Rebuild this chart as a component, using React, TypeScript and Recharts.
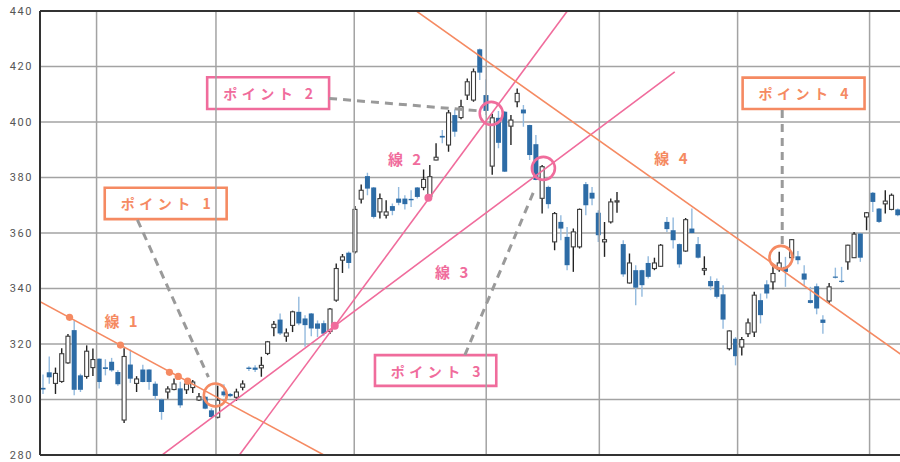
import {
  Bar,
  CartesianGrid,
  ComposedChart,
  ReferenceArea,
  ReferenceDot,
  ReferenceLine,
  XAxis,
  YAxis,
} from "recharts";

// daily candles (index = trading day)
const OPEN = [
  304.2, 309.8, 305.8, 306.5, 313.2, 325.0, 308.7, 308.3, 311.5, 314.7,
  311.6, 313.6, 309.9, 292.6, 312.6, 305.8, 310.8, 310.8, 305.7, 300.0,
  302.7, 303.6, 304.0, 303.5, 304.3, 299.8, 301.0, 296.1, 293.6, 302.9,
  302.0, 300.8, 304.4, 311.5, 311.5, 311.4, 316.6, 325.9, 328.8, 322.8,
  326.7, 331.6, 329.2, 331.0, 327.4, 327.5, 324.5, 335.8, 350.2, 352.9,
  353.2, 372.2, 380.5, 376.4, 367.6, 366.4, 369.7, 372.4, 372.4, 372.3,
  376.4, 376.4, 373.2, 386.3, 395.0, 391.7, 402.5, 401.6, 409.7, 407.9,
  426.2, 409.7, 384.1, 401.5, 403.7, 398.5, 407.3, 404.5, 398.9, 392.0,
  372.5, 376.6, 356.8, 364.0, 358.6, 355.0, 355.0, 377.6, 374.5, 367.3,
  356.8, 364.0, 371.2, 356.0, 342.0, 346.6, 346.6, 349.2, 347.2, 348.0,
  364.0, 361.0, 356.0, 353.5, 361.6, 356.0, 346.6, 342.7, 342.7, 337.9,
  318.3, 321.9, 318.9, 323.7, 324.3, 335.8, 341.5, 342.4, 346.8, 347.8,
  351.1, 351.6, 345.4, 335.8, 340.8, 328.8, 335.5, 344.3, 342.8, 349.6,
  351.1, 359.8, 365.8, 374.5, 368.8, 370.5, 368.5, 368.5,
];
const HIGH = [
  309.0, 315.5, 311.5, 318.5, 323.6, 328.5, 309.3, 319.5, 318.4, 314.8,
  314.5, 315.0, 310.5, 318.5, 318.0, 308.4, 312.5, 310.9, 306.5, 300.3,
  304.8, 307.6, 306.4, 307.0, 307.0, 302.3, 301.2, 296.8, 305.0, 305.5,
  302.3, 303.9, 306.9, 312.0, 312.3, 315.4, 321.1, 328.3, 331.0, 325.6,
  332.0, 337.0, 330.4, 331.2, 328.5, 328.5, 333.0, 349.0, 352.4, 353.3,
  369.7, 377.5, 381.7, 376.6, 374.2, 371.8, 370.6, 376.6, 373.6, 375.4,
  376.6, 382.9, 384.5, 392.3, 397.1, 404.3, 404.5, 408.0, 415.7, 419.3,
  426.5, 415.4, 403.0, 404.0, 404.0, 402.5, 412.1, 406.1, 399.0, 395.3,
  384.5, 377.0, 367.6, 366.4, 362.2, 361.6, 368.8, 378.4, 376.6, 368.2,
  364.0, 372.4, 374.8, 357.4, 352.6, 348.4, 346.8, 351.6, 351.1, 356.0,
  365.8, 365.6, 356.2, 365.4, 368.8, 358.6, 351.6, 344.4, 343.6, 341.2,
  324.9, 322.5, 322.5, 329.2, 338.8, 338.2, 343.0, 348.4, 353.2, 351.4,
  357.8, 353.5, 348.4, 340.6, 341.8, 330.4, 342.0, 347.5, 347.8, 355.8,
  360.4, 360.0, 367.6, 374.8, 369.0, 375.4, 374.2, 368.8,
];
const LOW = [
  302.0, 305.7, 302.0, 306.0, 312.9, 301.5, 302.7, 307.5, 308.5, 304.0,
  308.7, 310.0, 305.0, 291.5, 306.0, 302.7, 306.2, 303.5, 299.8, 292.7,
  300.3, 303.3, 297.0, 302.0, 302.3, 299.5, 296.5, 293.1, 293.2, 301.0,
  300.8, 299.5, 303.3, 310.3, 309.9, 308.2, 316.0, 322.8, 323.2, 320.8,
  324.3, 326.8, 319.0, 322.8, 322.5, 323.0, 323.6, 335.2, 345.6, 347.2,
  352.6, 370.6, 373.6, 365.2, 365.2, 365.2, 366.4, 370.0, 368.5, 369.4,
  372.4, 375.4, 373.0, 386.2, 392.3, 389.3, 394.7, 401.0, 407.9, 407.3,
  415.1, 402.5, 381.0, 390.5, 382.0, 391.7, 405.3, 398.3, 386.3, 379.0,
  367.0, 368.8, 353.8, 357.4, 346.6, 346.0, 354.4, 366.4, 370.0, 356.8,
  351.4, 363.4, 367.3, 344.2, 341.8, 334.0, 337.0, 343.6, 346.6, 347.8,
  360.4, 354.4, 347.5, 353.2, 359.8, 350.8, 344.8, 339.4, 336.4, 325.5,
  317.7, 312.3, 315.9, 322.5, 322.5, 327.4, 336.4, 339.6, 346.0, 340.6,
  350.2, 348.7, 341.2, 334.6, 330.7, 323.7, 334.6, 343.6, 342.0, 346.8,
  351.0, 349.6, 361.0, 367.6, 363.6, 367.0, 368.2, 366.0,
];
const CLOSE = [
  303.6, 308.0, 309.4, 316.5, 322.8, 303.5, 303.5, 317.4, 314.4, 306.3,
  311.0, 310.5, 305.5, 315.5, 307.5, 307.4, 306.3, 306.3, 301.3, 295.5,
  303.8, 305.6, 297.9, 305.6, 306.3, 301.0, 296.7, 293.7, 299.7, 301.5,
  301.2, 302.7, 305.6, 311.0, 310.7, 312.3, 320.8, 327.1, 323.8, 324.0,
  331.6, 327.4, 326.8, 325.6, 325.5, 323.7, 332.6, 347.2, 351.4, 349.2,
  368.5, 375.4, 376.0, 365.8, 372.4, 367.6, 368.0, 370.9, 370.4, 371.8,
  373.0, 379.3, 380.3, 387.3, 394.4, 403.3, 396.5, 405.5, 414.5, 418.1,
  417.8, 404.0, 401.5, 392.5, 382.1, 400.7, 410.3, 403.1, 388.1, 379.1,
  383.9, 370.4, 367.0, 361.6, 348.4, 360.4, 368.5, 370.0, 372.4, 359.2,
  357.6, 371.2, 371.6, 345.1, 349.2, 340.3, 341.2, 344.2, 349.2, 355.6,
  361.4, 357.4, 348.7, 364.8, 360.0, 351.1, 347.2, 340.8, 337.0, 328.8,
  324.7, 315.6, 321.6, 327.6, 337.6, 330.4, 338.2, 345.4, 349.2, 346.0,
  357.6, 350.2, 343.2, 334.8, 332.8, 327.6, 340.6, 343.9, 342.4, 355.6,
  359.6, 351.1, 367.3, 371.2, 364.0, 371.5, 373.6, 366.4,
];

const MONTH_STARTS = [9, 28, 50, 71, 89, 111, 132];
const Y_TICKS = [280, 300, 320, 340, 360, 380, 400, 420, 440];

const ORANGE = "#f58a62";
const PINK = "#f06c9c";
const GRID = "#a3a3a3";
const FRAME = "#333";

// trend lines: [x1, y1, x2, y2] in (day index, price)
const LINE_1 = [-0.5, 335.9, 50, 274.1];
const LINE_2 = [30, 274.7, 86, 446.4];
const LINE_3 = [17, 275.9, 101, 418.1];
const LINE_4 = [58, 443.0, 140, 311.4];

const LINE_LABELS = [
  { text: "線 1", x: 12.9, y: 328.5, color: ORANGE },
  { text: "線 2", x: 58.0, y: 387.0, color: PINK },
  { text: "線 3", x: 65.5, y: 346.1, color: PINK },
  { text: "線 4", x: 100.4, y: 387.3, color: ORANGE },
];

// touch points on line 1 and the anchors of lines 2/3
const LINE1_DOTS = [
  [4.7, 329.6],
  [12.8, 319.6],
  [20.6, 309.8],
  [22.0, 308.3],
  [23.5, 306.6],
];
const PINK_DOTS = [
  [46.9, 326.6],
  [61.8, 372.7],
];

const CIRCLES = [
  { x: 27.9, y: 301.6, color: ORANGE },
  { x: 71.8, y: 403.1, color: PINK },
  { x: 80.1, y: 383.3, color: PINK },
  { x: 117.9, y: 351.2, color: ORANGE },
];

// callout boxes: [x1, x2, y1, y2]
const BOXES = [
  { text: "ポイント 1", range: [10.3, 29.7, 365.0, 376.3], color: ORANGE },
  { text: "ポイント 2", range: [26.6, 46.0, 404.7, 416.1], color: PINK },
  { text: "ポイント 3", range: [53.3, 72.6, 304.9, 316.0], color: PINK },
  { text: "ポイント 4", range: [111.8, 131.2, 404.7, 416.0], color: ORANGE },
];

// dashed connectors from box to circle: [x1, y1, x2, y2]
const CONNECTORS = [
  [15.5, 364.7, 26.8, 308.1],
  [46.0, 408.5, 70.0, 404.0],
  [67.6, 316.0, 78.8, 376.2],
  [118.1, 404.3, 118.1, 355.7],
];

const N = OPEN.length;
const candles = OPEN.map((o, i) => ({ i, o, h: HIGH[i], l: LOW[i], c: CLOSE[i] }));

const JP_FONT = "'Noto Sans CJK JP', 'Noto Sans', sans-serif";

function Candle(props: any) {
  const { x, y, width, height, payload } = props;
  if (x == null || y == null || !payload) return null;
  const { o, h, l, c } = payload;
  const mid = x + width / 2;
  const span = h - l || 1;
  const toY = (v: number) => y + ((h - v) / span) * height;
  const top = toY(Math.max(o, c));
  const bottom = Math.max(toY(Math.min(o, c)), top + 1.2);
  if (c >= o) {
    return (
      <g>
        <line x1={mid} x2={mid} y1={y} y2={y + height} stroke="#222" strokeWidth={1.4} />
        <rect x={mid - 2} y={top} width={4} height={bottom - top} fill="#fff" stroke="#3d3d3d" strokeWidth={1.1} />
      </g>
    );
  }
  return (
    <g>
      <line x1={mid} x2={mid} y1={y} y2={y + height} stroke="#93bade" strokeWidth={1.4} />
      <rect x={mid - 2.5} y={top} width={5} height={bottom - top} fill="#2d6ca6" />
    </g>
  );
}

function textShape(text: string, color: string, size: number, spacing: number) {
  return (p: any) => (
    <text
      x={p.cx + spacing / 2}
      y={p.cy}
      textAnchor="middle"
      dominantBaseline="central"
      fill={color}
      fontSize={size}
      fontWeight={700}
      fontFamily={JP_FONT}
      letterSpacing={spacing}
    >
      {text}
    </text>
  );
}

export default function App() {
  return (
    <div style={{ position: "absolute", left: 0, top: 0, width: 900, height: 462, overflow: "hidden", background: "#fff" }}>
      <ComposedChart
        width={901}
        height={462}
        data={candles}
        margin={{ top: 11, right: 0, bottom: 7, left: 0 }}
        barCategoryGap={0}
      >
        <XAxis xAxisId="cat" dataKey="i" type="category" hide />
        <XAxis xAxisId="num" type="number" domain={[-0.5, N - 0.5]} allowDataOverflow hide />
        <YAxis
          domain={[280, 440]}
          ticks={Y_TICKS}
          interval={0}
          allowDataOverflow
          width={40}
          tickLine={false}
          tickSize={5}
          axisLine={{ stroke: FRAME, strokeWidth: 2 }}
          tick={{ fill: "#555", fontSize: 11, fontFamily: "Roboto", letterSpacing: 1.6 }}
        />
        <CartesianGrid xAxisId="num" vertical={false} stroke={GRID} strokeWidth={1.5} />
        {MONTH_STARTS.map((m) => (
          <ReferenceLine key={`m${m}`} xAxisId="num" x={m} stroke={GRID} strokeWidth={1.5} />
        ))}

        <Bar xAxisId="cat" dataKey={(d: any) => [d.l, d.h]} shape={Candle} isAnimationActive={false} />

        {[
          [LINE_1, ORANGE],
          [LINE_2, PINK],
          [LINE_3, PINK],
          [LINE_4, ORANGE],
        ].map(([seg, color], k) => {
          const s = seg as number[];
          return (
            <ReferenceLine
              key={`l${k}`}
              xAxisId="num"
              segment={[
                { x: s[0], y: s[1] },
                { x: s[2], y: s[3] },
              ]}
              stroke={color as string}
              strokeWidth={1.6}
              ifOverflow="hidden"
            />
          );
        })}

        {CONNECTORS.map((s, k) => (
          <ReferenceLine
            key={`c${k}`}
            xAxisId="num"
            segment={[
              { x: s[0], y: s[1] },
              { x: s[2], y: s[3] },
            ]}
            stroke="#9a9a9a"
            strokeWidth={3}
            strokeDasharray="8 6"
            ifOverflow="hidden"
          />
        ))}

        {CIRCLES.map((c, k) => (
          <ReferenceDot
            key={`o${k}`}
            xAxisId="num"
            x={c.x}
            y={c.y}
            r={11.5}
            fill="none"
            stroke={c.color}
            strokeWidth={2.6}
          />
        ))}
        {LINE1_DOTS.map(([x, y], k) => (
          <ReferenceDot key={`d${k}`} xAxisId="num" x={x} y={y} r={3.6} fill={ORANGE} stroke="none" />
        ))}
        {PINK_DOTS.map(([x, y], k) => (
          <ReferenceDot key={`p${k}`} xAxisId="num" x={x} y={y} r={4} fill={PINK} stroke="none" />
        ))}

        {BOXES.map((b) => (
          <ReferenceArea
            key={b.text}
            xAxisId="num"
            x1={b.range[0]}
            x2={b.range[1]}
            y1={b.range[2]}
            y2={b.range[3]}
            fill="#fff"
            fillOpacity={1}
            stroke={b.color}
            strokeWidth={2.6}
          />
        ))}
        {BOXES.map((b) => (
          <ReferenceDot
            key={`t${b.text}`}
            xAxisId="num"
            x={(b.range[0] + b.range[1]) / 2}
            y={(b.range[2] + b.range[3]) / 2}
            r={1}
            shape={textShape(b.text, b.color, 14, 4.5)}
          />
        ))}
        {LINE_LABELS.map((t) => (
          <ReferenceDot
            key={t.text}
            xAxisId="num"
            x={t.x}
            y={t.y}
            r={1}
            shape={textShape(t.text, t.color, 15, 3)}
          />
        ))}

        <ReferenceLine xAxisId="num" y={440} stroke={FRAME} strokeWidth={2} />
        <ReferenceLine xAxisId="num" y={280} stroke={FRAME} strokeWidth={2} />
      </ComposedChart>
    </div>
  );
}
